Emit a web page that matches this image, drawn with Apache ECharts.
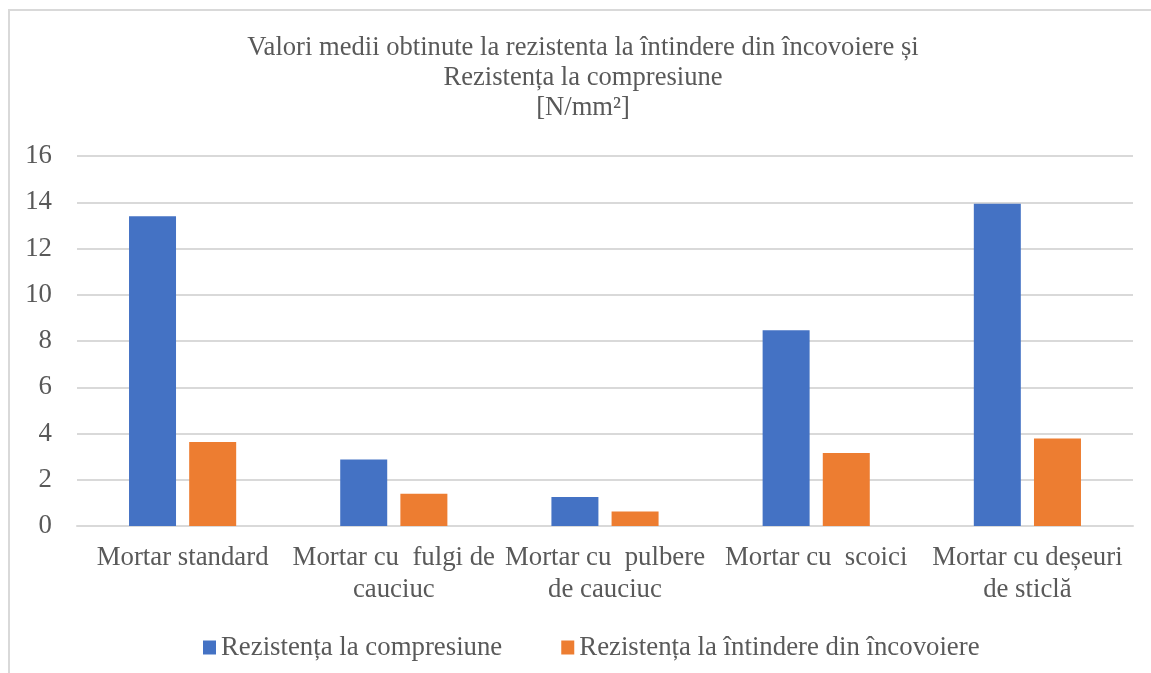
<!DOCTYPE html>
<html>
<head>
<meta charset="utf-8">
<script src="https://cdn.jsdelivr.net/npm/echarts@6/dist/echarts.min.js"></script>
<style>
  html, body { margin: 0; padding: 0; background: #fff; }
  #chart { width: 1151px; height: 673px; }
</style>
</head>
<body>
<div id="chart"></div>
<script>
  // categories and values
  const categories = [
    'Mortar standard',
    'Mortar cu  fulgi de\ncauciuc',
    'Mortar cu  pulbere\nde cauciuc',
    'Mortar cu  scoici',
    'Mortar cu deșeuri\nde sticlă'
  ];
  const compresiune = [13.4, 2.88, 1.25, 8.46, 13.94];
  const incovoiere = [3.63, 1.40, 0.63, 3.16, 3.78];
  const seriesNames = ['Rezistența la compresiune', 'Rezistența la întindere din încovoiere'];

  const font = 'Liberation Serif';
  const textColor = '#595959';

  let chart = echarts.init(document.getElementById('chart'));
  let option = {
    animation: false,
    graphic: [
      {
        type: 'rect',
        shape: { x: 9, y: 10, width: 1300, height: 800 },
        style: { fill: 'none', stroke: '#d9d9d9', lineWidth: 2 },
        silent: true
      }
    ],
    title: {
      text: 'Valori medii obtinute la rezistenta la întindere din încovoiere și\nRezistența la compresiune\n[N/mm²]',
      left: 578,
      top: 28,
      textAlign: 'center',
      textStyle: {
        fontFamily: font,
        fontSize: 26.6,
        fontWeight: 'normal',
        color: textColor,
        lineHeight: 30
      }
    },
    legend: {
      data: seriesNames,
      top: 629,
      left: 198,
      itemWidth: 13,
      itemHeight: 14,
      itemGap: 59,
      icon: 'rect',
      textStyle: { fontFamily: font, fontSize: 26.8, color: textColor }
    },
    grid: { left: 77, right: 18, top: 156, bottom: 147 },
    xAxis: {
      type: 'category',
      data: categories,
      axisLine: { lineStyle: { color: '#d9d9d9', width: 2 } },
      axisTick: { show: false },
      axisLabel: {
        fontFamily: font,
        fontSize: 26.8,
        color: textColor,
        margin: 16,
        lineHeight: 32,
        interval: 0
      }
    },
    yAxis: {
      type: 'value',
      min: 0,
      max: 16,
      interval: 2,
      axisLine: { show: false },
      axisTick: { show: false },
      splitLine: { lineStyle: { color: '#d9d9d9', width: 2 } },
      axisLabel: { fontFamily: font, fontSize: 26.8, color: textColor, margin: 25 }
    },
    series: [
      {
        name: seriesNames[0],
        type: 'bar',
        data: compresiune,
        barWidth: 47,
        barGap: '28%',
        itemStyle: { color: '#4472C4' }
      },
      {
        name: seriesNames[1],
        type: 'bar',
        data: incovoiere,
        barWidth: 47,
        itemStyle: { color: '#ED7D31' }
      }
    ]
  };
  chart.setOption(option);
</script>
</body>
</html>
